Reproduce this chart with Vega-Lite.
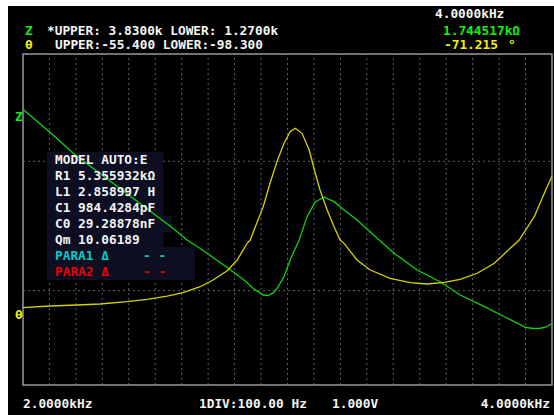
{
  "$schema": "https://vega.github.io/schema/vega-lite/v6.json",
  "width": 546,
  "height": 409,
  "autosize": "none",
  "padding": {"left": 8, "top": 6, "right": 0, "bottom": 0},
  "background": "white",
  "config": {
    "view": {"stroke": null, "fill": "black"},
    "text": {"font": "DejaVu Sans Mono", "fontWeight": "bold", "fontSize": 12.8, "baseline": "middle", "align": "left"}
  },
  "resolve": {"scale": {"y": "independent"}},
  "layer": [
    {
      "data": {"values": [{}]},
      "layer": [
        {
          "data": {"values": [{"f": 2100}, {"f": 2200}, {"f": 2300}, {"f": 2400}, {"f": 2500}, {"f": 2600}, {"f": 2700}, {"f": 2800}, {"f": 2900}, {"f": 3000}, {"f": 3100}, {"f": 3200}, {"f": 3300}, {"f": 3400}, {"f": 3500}, {"f": 3600}, {"f": 3700}, {"f": 3800}, {"f": 3900}]},
          "mark": {"type": "rule", "color": "#606060", "strokeWidth": 1, "strokeDash": [2, 3]},
          "encoding": {
            "x": {"field": "f", "type": "quantitative", "axis": null, "scale": {"domain": [1943.3, 4007.6], "nice": false, "zero": false}},
            "y": {"datum": 1.27, "type": "quantitative", "axis": null, "scale": {"domain": [1.038, 4.2012], "nice": false, "zero": false}},
            "y2": {"datum": 3.83}
          }
        },
        {
          "data": {"values": [{"z": 2.0}, {"z": 3.0}]},
          "mark": {"type": "rule", "color": "#606060", "strokeWidth": 1, "strokeDash": [2, 3]},
          "encoding": {
            "x": {"datum": 2000, "type": "quantitative"},
            "x2": {"datum": 4000},
            "y": {"field": "z", "type": "quantitative"}
          }
        },
        {
          "mark": {"type": "rect", "fill": null, "fillOpacity": 0, "stroke": "#989898", "strokeWidth": 1.5},
          "encoding": {
            "x": {"datum": 2000, "type": "quantitative"},
            "x2": {"datum": 4000},
            "y": {"datum": 1.27, "type": "quantitative"},
            "y2": {"datum": 3.83}
          }
        },
        {
          "mark": {"type": "rect", "color": "#0e0e22"},
          "encoding": {
            "x": {"datum": 2090.7, "type": "quantitative"},
            "x2": {"datum": 2530.4},
            "y": {"datum": 3.074, "type": "quantitative"},
            "y2": {"datum": 2.337}
          }
        },
        {
          "mark": {"type": "rect", "color": "#0e0e22"},
          "encoding": {
            "x": {"datum": 2529.3, "type": "quantitative"},
            "x2": {"datum": 2563.3},
            "y": {"datum": 2.577, "type": "quantitative"},
            "y2": {"datum": 2.453}
          }
        },
        {
          "mark": {"type": "rect", "color": "#0e0e22"},
          "encoding": {
            "x": {"datum": 2090.7, "type": "quantitative"},
            "x2": {"datum": 2650.3},
            "y": {"datum": 2.337, "type": "quantitative"},
            "y2": {"datum": 2.082}
          }
        },
        {
          "data": {"values": [
            {"f": 2000, "z": 3.402}, {"f": 2102, "z": 3.224}, {"f": 2189, "z": 3.064}, {"f": 2291, "z": 2.906},
            {"f": 2405, "z": 2.732}, {"f": 2480, "z": 2.616}, {"f": 2556, "z": 2.5}, {"f": 2620, "z": 2.391},
            {"f": 2670, "z": 2.326}, {"f": 2696, "z": 2.289}, {"f": 2745, "z": 2.217}, {"f": 2794, "z": 2.146},
            {"f": 2840, "z": 2.074}, {"f": 2870, "z": 2.018}, {"f": 2908, "z": 1.966}, {"f": 2927, "z": 1.962},
            {"f": 2946, "z": 1.982}, {"f": 2961, "z": 2.018}, {"f": 2987, "z": 2.108}, {"f": 3010, "z": 2.237},
            {"f": 3044, "z": 2.391}, {"f": 3074, "z": 2.572}, {"f": 3105, "z": 2.688}, {"f": 3139, "z": 2.722},
            {"f": 3176, "z": 2.688}, {"f": 3214, "z": 2.624}, {"f": 3263, "z": 2.546}, {"f": 3339, "z": 2.405},
            {"f": 3403, "z": 2.289}, {"f": 3490, "z": 2.159}, {"f": 3577, "z": 2.069}, {"f": 3653, "z": 1.966},
            {"f": 3744, "z": 1.876}, {"f": 3820, "z": 1.798}, {"f": 3899, "z": 1.716}, {"f": 3929, "z": 1.707},
            {"f": 3956, "z": 1.709}, {"f": 3978, "z": 1.719}, {"f": 4000, "z": 1.7445}
          ]},
          "mark": {"type": "line", "color": "#10d010", "strokeWidth": 1.3},
          "encoding": {
            "x": {"field": "f", "type": "quantitative"},
            "y": {"field": "z", "type": "quantitative"}
          }
        },
        {
          "mark": {"type": "text", "text": "Z", "color": "#10f010"},
          "encoding": {"x": {"datum": 2007.6, "type": "quantitative"}, "y": {"datum": 4.0079, "type": "quantitative"}}
        },
        {
          "mark": {"type": "text", "text": "*UPPER: 3.8300k LOWER: 1.2700k", "color": "#f4f4f4"},
          "encoding": {"x": {"datum": 2090.7, "type": "quantitative"}, "y": {"datum": 4.0079, "type": "quantitative"}}
        },
        {
          "mark": {"type": "text", "text": "θ", "color": "#f0f000"},
          "encoding": {"x": {"datum": 2007.6, "type": "quantitative"}, "y": {"datum": 3.8996, "type": "quantitative"}}
        },
        {
          "mark": {"type": "text", "text": "UPPER:-55.400  LOWER:-98.300", "color": "#f4f4f4"},
          "encoding": {"x": {"datum": 2121.0, "type": "quantitative"}, "y": {"datum": 3.8996, "type": "quantitative"}}
        },
        {
          "mark": {"type": "text", "text": "4.0000kHz", "color": "#f4f4f4"},
          "encoding": {"x": {"datum": 3557.6, "type": "quantitative"}, "y": {"datum": 4.1355, "type": "quantitative"}}
        },
        {
          "mark": {"type": "text", "text": "1.744517kΩ", "color": "#10f010"},
          "encoding": {"x": {"datum": 3587.9, "type": "quantitative"}, "y": {"datum": 4.0041, "type": "quantitative"}}
        },
        {
          "mark": {"type": "text", "text": "-71.215", "color": "#f0f000"},
          "encoding": {"x": {"datum": 3591.7, "type": "quantitative"}, "y": {"datum": 3.8958, "type": "quantitative"}}
        },
        {
          "mark": {"type": "text", "text": "°", "color": "#f0f000"},
          "encoding": {"x": {"datum": 3833.6, "type": "quantitative"}, "y": {"datum": 3.8958, "type": "quantitative"}}
        },
        {
          "mark": {"type": "text", "text": "Z", "color": "#10f010"},
          "encoding": {"x": {"datum": 1969.8, "type": "quantitative"}, "y": {"datum": 3.3451, "type": "quantitative"}}
        },
        {
          "mark": {"type": "text", "text": "θ", "color": "#f0f000"},
          "encoding": {"x": {"datum": 1969.8, "type": "quantitative"}, "y": {"datum": 1.8114, "type": "quantitative"}}
        },
        {
          "mark": {"type": "text", "text": ["MODEL AUTO:E", "R1 5.355932kΩ", "L1 2.858997 H", "C1 984.4284pF", "C0 29.28878nF", "Qm 10.06189"], "lineHeight": 16, "color": "#f4f4f4"},
          "encoding": {"x": {"datum": 2121.0, "type": "quantitative"}, "y": {"datum": 3.0102, "type": "quantitative"}}
        },
        {
          "mark": {"type": "text", "text": "PARA1 Δ", "color": "#00cccc"},
          "encoding": {"x": {"datum": 2121.0, "type": "quantitative"}, "y": {"datum": 2.2677, "type": "quantitative"}}
        },
        {
          "mark": {"type": "text", "text": "- -", "color": "#00cccc"},
          "encoding": {"x": {"datum": 2453.7, "type": "quantitative"}, "y": {"datum": 2.2677, "type": "quantitative"}}
        },
        {
          "mark": {"type": "text", "text": "PARA2 Δ", "color": "#ee0000"},
          "encoding": {"x": {"datum": 2121.0, "type": "quantitative"}, "y": {"datum": 2.144, "type": "quantitative"}}
        },
        {
          "mark": {"type": "text", "text": "- -", "color": "#ee0000"},
          "encoding": {"x": {"datum": 2453.7, "type": "quantitative"}, "y": {"datum": 2.144, "type": "quantitative"}}
        },
        {
          "mark": {"type": "text", "text": "2.0000kHz", "color": "#f4f4f4"},
          "encoding": {"x": {"datum": 2000, "type": "quantitative"}, "y": {"datum": 1.1269, "type": "quantitative"}}
        },
        {
          "mark": {"type": "text", "text": "1DIV:100.00 Hz", "color": "#f4f4f4"},
          "encoding": {"x": {"datum": 2665.4, "type": "quantitative"}, "y": {"datum": 1.1269, "type": "quantitative"}}
        },
        {
          "mark": {"type": "text", "text": "1.000V", "color": "#f4f4f4"},
          "encoding": {"x": {"datum": 3168.2, "type": "quantitative"}, "y": {"datum": 1.1269, "type": "quantitative"}}
        },
        {
          "mark": {"type": "text", "text": "4.0000kHz", "color": "#f4f4f4", "align": "right"},
          "encoding": {"x": {"datum": 3992.4, "type": "quantitative"}, "y": {"datum": 1.1269, "type": "quantitative"}}
        }
      ]
    },
    {
      "data": {"values": [
        {"f": 2000, "theta": -88.28}, {"f": 2102, "theta": -88.06}, {"f": 2204, "theta": -87.93}, {"f": 2291, "theta": -87.8},
        {"f": 2393, "theta": -87.5}, {"f": 2469, "theta": -87.19}, {"f": 2545, "theta": -86.77}, {"f": 2605, "theta": -86.34},
        {"f": 2670, "theta": -85.56}, {"f": 2719, "theta": -84.69}, {"f": 2772, "theta": -83.49}, {"f": 2810, "theta": -82.1},
        {"f": 2847, "theta": -79.94}, {"f": 2859, "theta": -79.51}, {"f": 2908, "theta": -75.19}, {"f": 2934, "theta": -72.16},
        {"f": 2961, "theta": -69.27}, {"f": 2987, "theta": -66.97}, {"f": 3010, "theta": -65.47}, {"f": 3029, "theta": -65.03},
        {"f": 3055, "theta": -65.68}, {"f": 3082, "theta": -67.84}, {"f": 3105, "theta": -70.86}, {"f": 3123, "theta": -73.03},
        {"f": 3150, "theta": -75.62}, {"f": 3176, "theta": -77.78}, {"f": 3199, "theta": -79.51}, {"f": 3214, "theta": -79.94},
        {"f": 3263, "theta": -82.1}, {"f": 3313, "theta": -83.4}, {"f": 3388, "theta": -84.47}, {"f": 3464, "theta": -85.04},
        {"f": 3528, "theta": -85.21}, {"f": 3593, "theta": -84.99}, {"f": 3653, "theta": -84.6}, {"f": 3717, "theta": -83.82},
        {"f": 3782, "theta": -82.53}, {"f": 3842, "theta": -80.58}, {"f": 3876, "theta": -79.51}, {"f": 3933, "theta": -76.49},
        {"f": 3971, "theta": -73.46}, {"f": 4000, "theta": -71.215}
      ]},
      "mark": {"type": "line", "color": "#d2d200", "strokeWidth": 1.3},
      "encoding": {
        "x": {"field": "f", "type": "quantitative"},
        "y": {"field": "theta", "type": "quantitative", "axis": null, "scale": {"domain": [-102.188, -49.179], "nice": false, "zero": false}}
      }
    }
  ]
}
